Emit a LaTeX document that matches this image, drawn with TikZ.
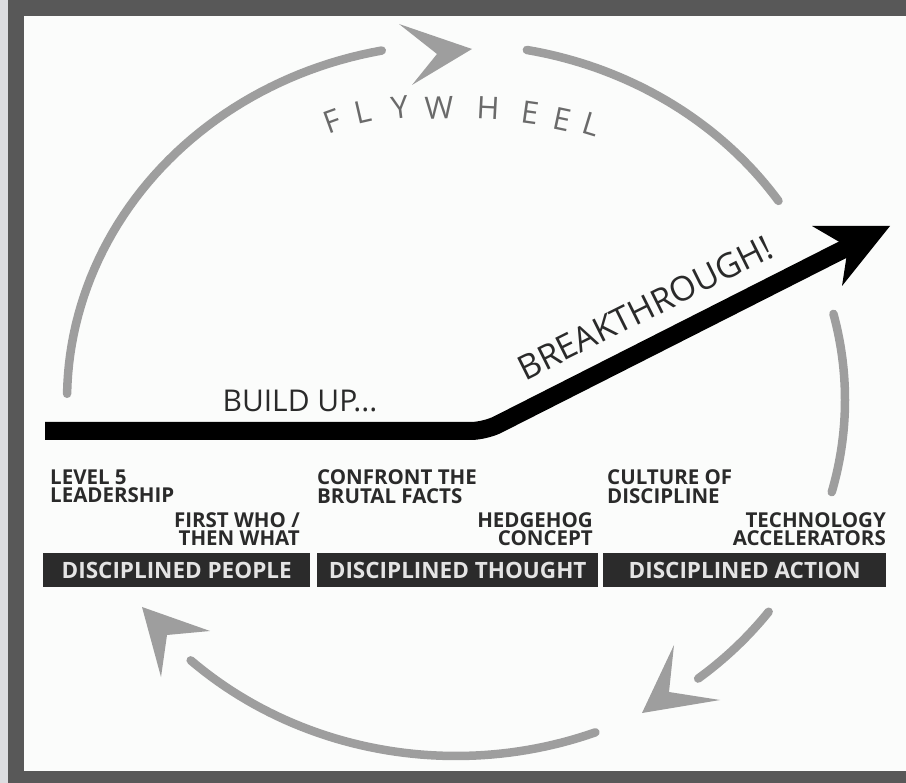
\documentclass[tikz,border=0pt]{standalone}
\usepackage{fontspec}
\setmainfont{Open Sans}
\begin{document}
\begin{tikzpicture}[x=1pt,y=-1pt]
\definecolor{outergray}{HTML}{DCDDE0}
\definecolor{framegray}{HTML}{585858}
\definecolor{paper}{HTML}{FBFCFB}
\definecolor{arcgray}{HTML}{9E9E9E}
\definecolor{flygray}{HTML}{6A6A6A}
\definecolor{textdark}{HTML}{2A2A2A}
\definecolor{boxdark}{HTML}{2B2B2B}
\definecolor{boxtext}{HTML}{E4E4E4}
\tikzset{
  wheel/.style={draw=arcgray, line width=8.5pt, line cap=round},
  wheelhead/.style={fill=arcgray},
  flyletter/.style={font=\fontsize{31}{31}\selectfont, text=flygray, inner sep=0pt},
  labeltxt/.style={font=\bfseries\fontsize{20.5}{18.5}\selectfont, text=textdark, inner sep=0pt},
  boxlabel/.style={fill=boxdark, text=boxtext, font=\bfseries\fontsize{22.5}{22.5}\selectfont, inner sep=0pt, anchor=north west, minimum height=34pt},
  bigtxt/.style={font=\fontsize{30}{30}\selectfont, text=textdark, inner sep=0pt}
}
\useasboundingbox (0,0) rectangle (906,783);
\fill[outergray] (0,0) rectangle (906,783);
\fill[framegray] (8,0) rectangle (906,783);
\fill[paper] (24,16) rectangle (906,771);

% flywheel arcs
\draw[wheel] plot[domain=101:179, samples=50] ({456+389*cos(\x)},{400-356*sin(\x)});
\draw[wheel] plot[domain=34:79.5, samples=40] ({456+389*cos(\x)},{400-356*sin(\x)});
\draw[wheel] plot[domain=-15:14, samples=30] ({456+389*cos(\x)},{400-356*sin(\x)});
\draw[wheel] plot[domain=-51.5:-36.5, samples=20] ({456+389*cos(\x)},{400-356*sin(\x)});
\draw[wheel] plot[domain=-133:-69, samples=50] ({456+389*cos(\x)},{400-356*sin(\x)});

% flywheel arrowheads
\fill[wheelhead] (399,24) -- (472,49) -- (412,85) -- (437,54) -- cycle;
\fill[wheelhead] (142,607) -- (210,631) -- (167,635) -- (161,677) -- cycle;
\fill[wheelhead] (642,713) -- (674,645) -- (669,692) -- (720,700) -- cycle;

% FLYWHEEL letters
\node[flyletter, rotate=20] (f1) at (332,121) {F};
\node[flyletter, rotate=13] (f2) at (363,112) {L};
\node[flyletter, rotate=7] (f3) at (400,107) {Y};
\node[flyletter, rotate=2] (f4) at (439,108) {W};
\node[flyletter, rotate=-3] (f5) at (488,108) {H};
\node[flyletter, rotate=-8] (f6) at (530,113) {E};
\node[flyletter, rotate=-12] (f7) at (562,119) {E};
\node[flyletter, rotate=-17] (f8) at (591,124) {L};

% black build-up / breakthrough arrow
\coordinate (barstart) at (45,431);
\coordinate (bend) at (485,431);
\coordinate (shaftend) at (852,245);
\draw[line width=18pt, rounded corners=14pt] (barstart) -- (bend) -- (shaftend);
\fill (890,226) -- (812,226) -- (848,247) -- (842,286) -- cycle;

\node[bigtxt] (build) at (300,401) {BUILD UP...};
\node[bigtxt, font=\fontsize{34}{34}\selectfont, rotate=26.5] (break) at (645,308) {BREAKTHROUGH!};

% labels
\node[labeltxt, anchor=north west, align=left] (lvl) at (50,469.5) {LEVEL 5\\LEADERSHIP};
\node[labeltxt, anchor=north east, align=right] (who) at (300,512) {FIRST WHO /\\THEN WHAT};
\node[labeltxt, anchor=north west, align=left] (conf) at (317,469.5) {CONFRONT THE\\BRUTAL FACTS};
\node[labeltxt, anchor=north east, align=right] (hedge) at (593,512) {HEDGEHOG\\CONCEPT};
\node[labeltxt, anchor=north west, align=left] (cult) at (607,469.5) {CULTURE OF\\DISCIPLINE};
\node[labeltxt, anchor=north east, align=right] (tech) at (886,512) {TECHNOLOGY\\ACCELERATORS};

% boxes
\node[boxlabel, minimum width=267pt] (people) at (43,553) {DISCIPLINED PEOPLE};
\node[boxlabel, minimum width=281pt] (thought) at (317,553) {DISCIPLINED THOUGHT};
\node[boxlabel, minimum width=283pt] (action) at (603,553) {DISCIPLINED ACTION};
\end{tikzpicture}
\end{document}
